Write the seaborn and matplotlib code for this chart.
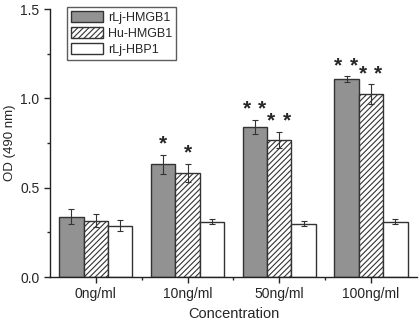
import numpy as np
import pandas as pd
import seaborn as sns
import matplotlib
matplotlib.use("Agg")
from matplotlib import pyplot as plt
from matplotlib.ticker import MultipleLocator, FixedLocator, FormatStrFormatter
from matplotlib.patches import Patch

concentrations = ["0ng/ml", "10ng/ml", "50ng/ml", "100ng/ml"]
proteins = ["rLj-HMGB1", "Hu-HMGB1", "rLj-HBP1"]
od_rlj_hmgb1 = [0.337, 0.630, 0.838, 1.106]
od_hu_hmgb1 = [0.315, 0.584, 0.767, 1.024]
od_rlj_hbp1 = [0.287, 0.310, 0.298, 0.309]
err_rlj_hmgb1 = [0.042, 0.052, 0.040, 0.017]
err_hu_hmgb1 = [0.035, 0.050, 0.043, 0.054]
err_rlj_hbp1 = [0.032, 0.015, 0.013, 0.015]
# number of significance stars above each bar
stars_rlj_hmgb1 = [0, 1, 2, 2]
stars_hu_hmgb1 = [0, 1, 2, 2]

df = pd.DataFrame({
    "Concentration": concentrations * 3,
    "Protein": np.repeat(proteins, 4),
    "OD": od_rlj_hmgb1 + od_hu_hmgb1 + od_rlj_hbp1,
    "err": err_rlj_hmgb1 + err_hu_hmgb1 + err_rlj_hbp1,
})

sns.set_style("ticks")
plt.rcParams["font.family"] = ["Liberation Sans", "DejaVu Sans"]
plt.rcParams["hatch.linewidth"] = 0.8
plt.rcParams["hatch.color"] = "#555555"

fig = plt.figure(figsize=(4.19, 3.23), dpi=100)
ax = fig.add_axes([0.119, 0.1424, 0.876, 0.8296])

fills = ["#929292", "white", "white"]
hatches = ["", "//////", ""]
sns.barplot(data=df, x="Concentration", y="OD", hue="Protein",
            order=concentrations, hue_order=proteins,
            palette=fills, errorbar=None, width=0.8, gap=0,
            edgecolor="#333333", linewidth=1.0, ax=ax, legend=False)

bars = ax.patches
errs = [err_rlj_hmgb1, err_hu_hmgb1, err_rlj_hbp1]
stars = [stars_rlj_hmgb1, stars_hu_hmgb1, None]
for k in range(3):
    for i in range(4):
        b = bars[k * 4 + i]
        b.set_hatch(hatches[k])
        cx = b.get_x() + b.get_width() / 2
        h = b.get_height()
        ax.errorbar(cx, h, yerr=errs[k][i], color="#333333", capsize=2.5,
                    elinewidth=0.8, capthick=0.8)
        if stars[k] is not None and stars[k][i]:
            n = stars[k][i]
            offs = [0.0] if n == 1 else [-0.09, 0.08]
            for o in offs:
                ax.text(cx + o, h + errs[k][i] + 0.008, "*", ha="center",
                        va="bottom", fontsize=15, fontweight="bold")

ax.set_ylim(0, 1.5)
ax.set_xlim(-0.5, 3.5)
ax.yaxis.set_major_locator(MultipleLocator(0.5))
ax.yaxis.set_minor_locator(MultipleLocator(0.25))
ax.yaxis.set_major_formatter(FormatStrFormatter("%.1f"))
ax.xaxis.set_minor_locator(FixedLocator([0.5, 1.5, 2.5]))
ax.tick_params(which="major", direction="out", length=4, width=1, labelsize=10)
ax.tick_params(which="minor", direction="out", length=2.5, width=1)
sns.despine(ax=ax)
for s in ["left", "bottom"]:
    ax.spines[s].set_linewidth(1.0)
    ax.spines[s].set_color("#222222")
ax.set_xlabel("Concentration", fontsize=10.5, labelpad=4)
ax.set_ylabel("OD (490 nm)", fontsize=9.5, labelpad=3)

handles = [Patch(facecolor=fills[k], edgecolor="#333333", hatch=hatches[k], label=proteins[k])
           for k in range(3)]
ax.legend(handles=handles, loc="upper left", bbox_to_anchor=(0.03, 1.03),
          fontsize=9, frameon=True, fancybox=False, edgecolor="#333333",
          handlelength=2.6, handleheight=1.0, borderpad=0.3, labelspacing=0.25,
          handletextpad=0.4)

fig.savefig("out.png", dpi=100)
